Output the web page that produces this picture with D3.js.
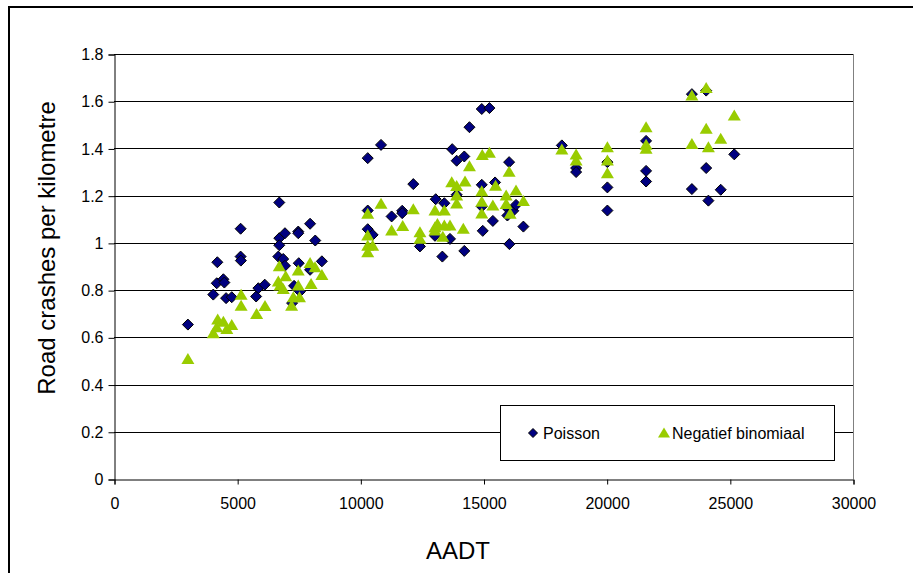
<!DOCTYPE html>
<html>
<head>
<meta charset="utf-8">
<script src="https://cdn.jsdelivr.net/npm/d3@7"></script>
<style>
  body { margin: 0; background: #fff; }
  svg { display: block; font-family: "Liberation Sans", Arial, sans-serif; }
</style>
</head>
<body>
<svg></svg>
<script>
// размеры
const width = 913;
const height = 573;

// данные: [AADT, аварий на км]
const poisson = [
  [3000,0.654],[4030,0.781],[4170,0.829],[4195,0.918],[4440,0.846],[4480,0.832],
  [4550,0.766],[4780,0.770],[5140,1.060],[5140,0.942],[5150,0.925],[5770,0.773],
  [5860,0.808],[6120,0.823],[6670,0.942],[6710,1.171],[6710,1.020],[6710,0.990],
  [6870,0.932],[6940,1.041],[6940,0.903],[7230,0.745],[7310,0.818],[7480,1.048],
  [7480,1.041],[7500,0.914],[7550,0.794],[7960,1.081],[7960,0.886],[8170,1.010],
  [8440,0.922],
  [10300,1.359],[10840,1.415],[10300,1.137],[10300,1.058],[10500,1.034],[11270,1.112],
  [11700,1.136],[11700,1.126],[12150,1.249],[12420,0.985],[13030,1.030],[13060,1.185],
  [13330,0.942],[13410,1.168],[13640,1.017],[13730,1.397],[13910,1.348],[13910,1.204],
  [14220,1.366],[14220,0.966],[14430,1.490],[14930,1.567],[15240,1.571],[14930,1.246],
  [15470,1.256],[14930,1.154],[14970,1.051],[15380,1.093],[15970,1.147],[15970,1.116],
  [16210,1.136],[16320,1.161],[16040,1.342],[16620,1.069],[16050,0.995],
  [18180,1.413],[18760,1.317],[18760,1.300],[20030,1.342],[20030,1.235],[20030,1.137],
  [21600,1.432],[21600,1.305],[21600,1.260],[23460,1.630],[23460,1.228],[24040,1.645],
  [24040,1.317],[24130,1.179],[24630,1.225],[25180,1.375]
];
const negBinomial = [
  [3000,0.504],[4030,0.613],[4170,0.638],[4210,0.671],[4440,0.662],[4580,0.631],
  [4780,0.648],[5160,0.776],[5160,0.730],[5790,0.695],[6130,0.728],[6670,0.832],
  [6710,0.897],[6740,0.815],[6870,0.801],[6970,0.855],[7210,0.730],[7280,0.766],
  [7480,0.879],[7480,0.815],[7530,0.766],[7960,0.911],[8000,0.822],[8160,0.893],
  [8440,0.860],
  [10300,1.119],[10300,1.027],[10300,0.984],[10300,0.956],[10500,0.984],[10840,1.162],
  [11270,1.048],[11720,1.067],[12150,1.138],[12420,1.041],[12420,1.013],[13030,1.133],
  [13030,1.062],[13130,1.076],[13030,1.048],[13350,1.022],[13410,1.133],[13410,1.069],
  [13640,1.069],[13710,1.253],[13910,1.237],[13910,1.196],[13910,1.163],[14180,1.056],
  [14250,1.256],[14430,1.320],[14950,1.368],[15240,1.378],[14930,1.215],[14930,1.170],
  [14930,1.120],[15490,1.238],[15380,1.154],[15920,1.196],[15920,1.161],[16320,1.218],
  [16620,1.173],[16080,1.119],[16040,1.297],
  [18180,1.391],[18760,1.370],[18760,1.345],[20030,1.401],[20030,1.345],[20030,1.291],
  [21600,1.486],[21600,1.411],[21600,1.394],[23460,1.620],[23460,1.415],[24040,1.652],
  [24040,1.479],[24130,1.401],[24630,1.437],[25180,1.535]
];
const xTicks = [0, 5000, 10000, 15000, 20000, 25000, 30000];
const yTicks = [0, 0.2, 0.4, 0.6, 0.8, 1, 1.2, 1.4, 1.6, 1.8];
const seriesNames = ["Poisson", "Negatief binomiaal"];

let svg = d3.select("svg")
  .attr("width", width)
  .attr("height", height);

// внешняя рамка (видны только верх и левый край)
svg.append("rect")
  .attr("x", 9).attr("y", 7)
  .attr("width", 960).attr("height", 620)
  .attr("fill", "none")
  .attr("stroke", "#000")
  .attr("stroke-width", 2);

// шкалы
const x = d3.scaleLinear().domain([0, 30000]).range([114, 853]);
const y = d3.scaleLinear().domain([0, 1.8]).range([479, 54]);

// сетка
svg.append("g")
  .selectAll("line")
  .data(yTicks.slice(1))
  .join("line")
  .attr("x1", 114).attr("x2", 853)
  .attr("y1", d => Math.round(y(d)) + 0.5)
  .attr("y2", d => Math.round(y(d)) + 0.5)
  .attr("stroke", "#000")
  .attr("stroke-width", 1);

// правая граница области построения
svg.append("line")
  .attr("x1", 853.5).attr("x2", 853.5)
  .attr("y1", 54).attr("y2", 479)
  .attr("stroke", "#808080");

// ось Y
let yAxis = svg.append("g")
  .attr("transform", "translate(114.5,0.5)")
  .call(d3.axisLeft(y).tickValues(yTicks).tickSize(6).tickPadding(5)
    .tickFormat(d => d3.format("~g")(d)));
yAxis.select(".domain").attr("stroke", "#000");
yAxis.selectAll("text")
  .attr("font-size", 16)
  .attr("font-family", "Liberation Sans, Arial, sans-serif")
  .attr("fill", "#000");

// ось X
let xAxis = svg.append("g")
  .attr("transform", "translate(0.5,479.5)")
  .call(d3.axisBottom(x).tickValues(xTicks).tickSize(5).tickPadding(13)
    .tickFormat(d3.format("d")));
xAxis.select(".domain").attr("stroke", "#000");
xAxis.selectAll("text")
  .attr("font-size", 16)
  .attr("font-family", "Liberation Sans, Arial, sans-serif")
  .attr("fill", "#000");

// подписи осей
svg.append("text")
  .attr("x", 458).attr("y", 559)
  .attr("text-anchor", "middle")
  .attr("font-size", 24)
  .text("AADT");

svg.append("text")
  .attr("transform", "translate(55,248) rotate(-90)")
  .attr("text-anchor", "middle")
  .attr("font-size", 24)
  .text("Road crashes per kilometre");

// маркеры
const diamond = "M0,-5.5L5.5,0L0,5.5L-5.5,0Z";
const triangle = "M0,-6L6.5,5L-6.5,5Z";

svg.append("g")
  .selectAll("path")
  .data(poisson)
  .join("path")
  .attr("d", diamond)
  .attr("transform", d => `translate(${x(d[0])},${y(d[1])})`)
  .attr("fill", "#000080")
  .attr("stroke", "#000")
  .attr("stroke-width", 1);

svg.append("g")
  .selectAll("path")
  .data(negBinomial)
  .join("path")
  .attr("d", triangle)
  .attr("transform", d => `translate(${x(d[0])},${y(d[1]) - 1})`)
  .attr("fill", "#99CC00");

// легенда
let legend = svg.append("g");
legend.append("rect")
  .attr("x", 500.5).attr("y", 405.5)
  .attr("width", 334).attr("height", 55)
  .attr("fill", "#fff")
  .attr("stroke", "#000");

legend.append("path")
  .attr("d", "M0,-4.5L4.5,0L0,4.5L-4.5,0Z")
  .attr("transform", "translate(533,433)")
  .attr("fill", "#000080")
  .attr("stroke", "#000");
legend.append("text")
  .attr("x", 543).attr("y", 439)
  .attr("font-size", 16)
  .text(seriesNames[0]);

legend.append("path")
  .attr("d", "M0,-5.5L6,4.5L-6,4.5Z")
  .attr("transform", "translate(664,433)")
  .attr("fill", "#99CC00");
legend.append("text")
  .attr("x", 672).attr("y", 439)
  .attr("font-size", 16)
  .text(seriesNames[1]);
</script>
</body>
</html>
